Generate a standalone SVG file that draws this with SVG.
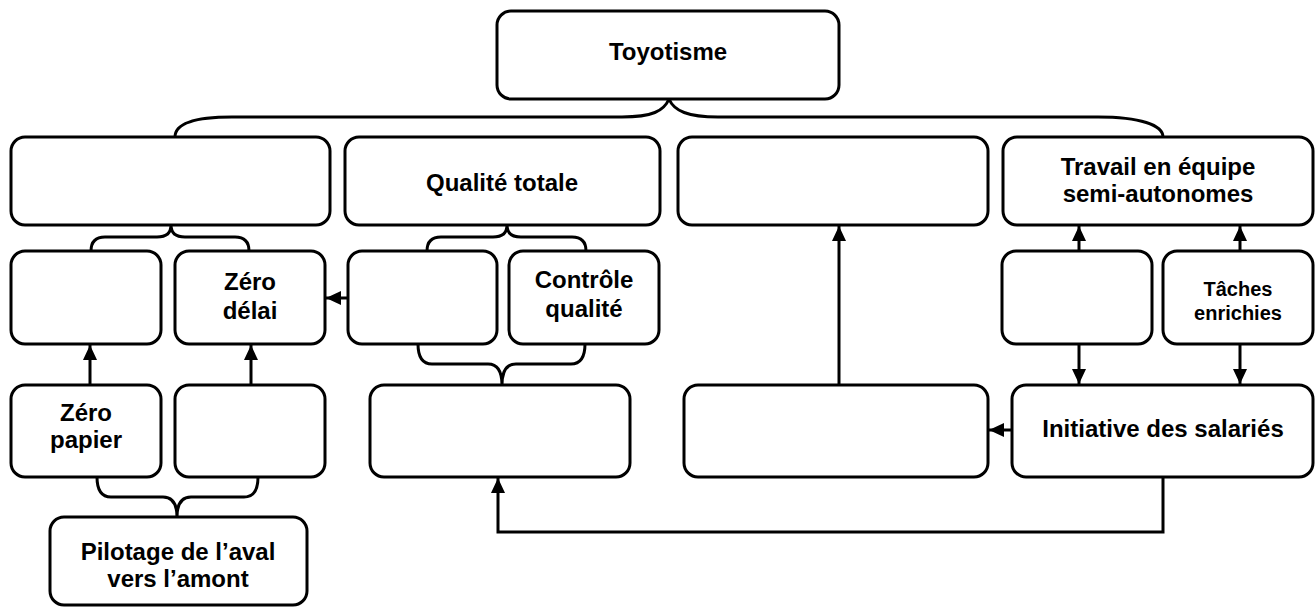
<svg xmlns="http://www.w3.org/2000/svg" width="1316" height="607" viewBox="0 0 1316 607">
  <style>
    .box { fill: #ffffff; stroke: #000000; stroke-width: 3; }
    .link { fill: none; stroke: #000000; stroke-width: 3; }
    .arrow { fill: none; stroke: #000000; stroke-width: 3; marker-end: url(#head); }
    .label { font-family: "Liberation Sans", Arial, sans-serif; font-weight: bold; font-size: 24px; fill: #000000; text-anchor: middle; }
    .small { font-size: 20px; }
  </style>
  <defs>
    <marker id="head" markerUnits="userSpaceOnUse" markerWidth="16" markerHeight="14" refX="15" refY="7" orient="auto">
      <path d="M0,0 L15,7 L0,14 Z" fill="#000000"/>
    </marker>
  </defs>

  <rect width="1316" height="607" fill="#ffffff"/>

  <!-- connectors: braces and arrows -->
  <g id="connectors">
    <!-- top-level brace -->
    <path class="link" d="M175,137 C175,124 192,117 232,117 L622,117 C652,117 664,111 669,99 C674,111 688,117 718,117 L1098,117 C1140,117 1163,125 1163,137"/>
    <!-- sub braces -->
    <path class="link" d="M91,251 Q91,237 105,237 L157,237 Q171,237 171,225 Q171,237 185,237 L235,237 Q249,237 249,251"/>
    <path class="link" d="M427,251 Q427,237 441,237 L493,237 Q507,237 507,225 Q507,237 521,237 L572,237 Q586,237 586,251"/>
    <path class="link" d="M418,344 Q418,364 432,364 L488,364 Q502,364 502,385 Q502,364 516,364 L571,364 Q585,364 585,344"/>
    <path class="link" d="M97,477 Q97,497 111,497 L163,497 Q177,497 177,517 Q177,497 191,497 L244,497 Q258,497 258,477"/>
    <!-- arrows -->
    <path class="arrow" d="M348,298 L326,298"/>
    <path class="arrow" d="M90,385 L90,345"/>
    <path class="arrow" d="M251,385 L251,345"/>
    <path class="arrow" d="M839,385 L839,226"/>
    <path class="arrow" d="M1079,251 L1079,226"/>
    <path class="arrow" d="M1240,251 L1240,226"/>
    <path class="arrow" d="M1079,344 L1079,384"/>
    <path class="arrow" d="M1240,344 L1240,384"/>
    <path class="arrow" d="M1012,430 L989,430"/>
    <path class="arrow" d="M1163,477 L1163,532 L498,532 L498,478"/>
  </g>

  <g id="toyotisme">
    <rect class="box" x="497" y="11" width="342" height="88" rx="14"/>
    <text class="label" x="668" y="60">Toyotisme</text>
  </g>

  <g id="flux-tendus">
    <rect class="box" x="11" y="137" width="319" height="88" rx="14"/>
  </g>
  <g id="qualite-totale">
    <rect class="box" x="345" y="137" width="315" height="88" rx="14"/>
    <text class="label" x="502" y="191">Qualité totale</text>
  </g>
  <g id="amelioration">
    <rect class="box" x="678" y="137" width="310" height="88" rx="14"/>
  </g>
  <g id="travail-equipe">
    <rect class="box" x="1003" y="137" width="310" height="88" rx="14"/>
    <text class="label" x="1158" y="175">Travail en équipe</text>
    <text class="label" x="1158" y="202">semi-autonomes</text>
  </g>

  <g id="zero-stock">
    <rect class="box" x="11" y="251" width="150" height="93" rx="14"/>
  </g>
  <g id="zero-delai">
    <rect class="box" x="175" y="251" width="150" height="93" rx="14"/>
    <text class="label" x="250" y="290">Zéro</text>
    <text class="label" x="250" y="319">délai</text>
  </g>
  <g id="zero-defaut">
    <rect class="box" x="348" y="251" width="149" height="93" rx="14"/>
  </g>
  <g id="controle-qualite">
    <rect class="box" x="509" y="251" width="150" height="93" rx="14"/>
    <text class="label" x="584" y="288">Contrôle</text>
    <text class="label" x="584" y="317">qualité</text>
  </g>
  <g id="polyvalence">
    <rect class="box" x="1002" y="251" width="150" height="93" rx="14"/>
  </g>
  <g id="taches-enrichies">
    <rect class="box" x="1163" y="251" width="150" height="93" rx="14"/>
    <text class="label small" x="1238" y="296">Tâches</text>
    <text class="label small" x="1238" y="320">enrichies</text>
  </g>

  <g id="zero-papier">
    <rect class="box" x="11" y="385" width="150" height="92" rx="14"/>
    <text class="label" x="86" y="421">Zéro</text>
    <text class="label" x="86" y="448">papier</text>
  </g>
  <g id="kanban">
    <rect class="box" x="175" y="385" width="150" height="92" rx="14"/>
  </g>
  <g id="cercles-qualite">
    <rect class="box" x="370" y="385" width="260" height="92" rx="14"/>
  </g>
  <g id="kaizen">
    <rect class="box" x="684" y="385" width="304" height="92" rx="14"/>
  </g>
  <g id="initiative">
    <rect class="box" x="1012" y="385" width="301" height="92" rx="14"/>
    <text class="label" x="1163" y="437">Initiative des salariés</text>
  </g>

  <g id="pilotage">
    <rect class="box" x="50" y="517" width="257" height="88" rx="14"/>
    <text class="label" x="178" y="560">Pilotage de l’aval</text>
    <text class="label" x="178" y="587">vers l’amont</text>
  </g>
</svg>
